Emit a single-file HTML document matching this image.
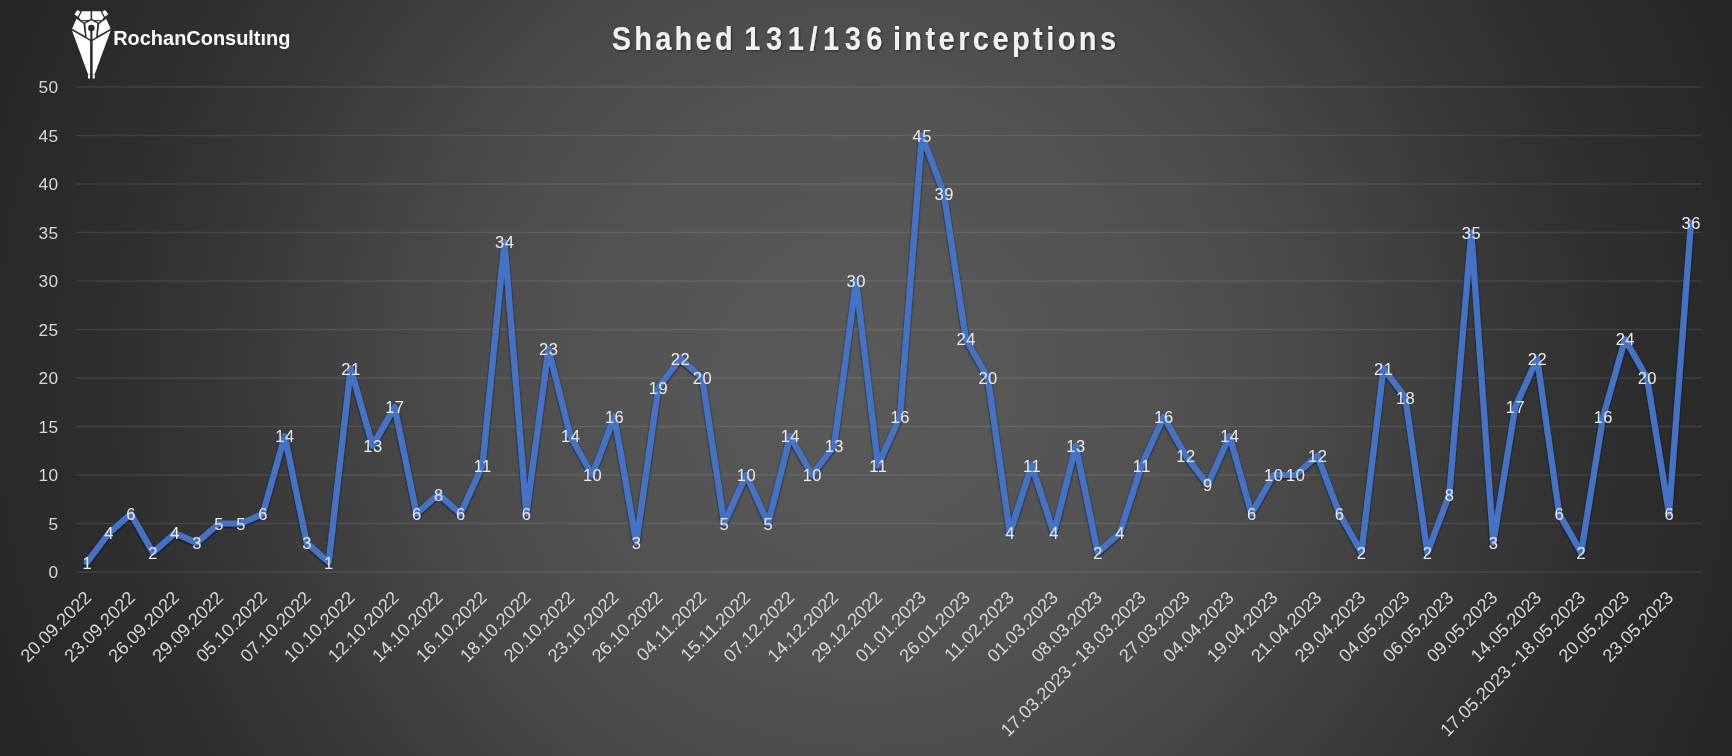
<!DOCTYPE html>
<html lang="en"><head><meta charset="utf-8"><title>Shahed 131/136 interceptions</title>
<style>
html,body{margin:0;padding:0;background:#262626;}
body{width:1732px;height:756px;overflow:hidden;font-family:"Liberation Sans",sans-serif;}
#chart{position:relative;width:1732px;height:756px;overflow:hidden;
background:radial-gradient(circle 945px at 866px 378px,#595959 0%,#585858 10%,#555555 20%,#525252 30%,#4d4d4d 40%,#464646 50%,#3e3e3e 60%,#353535 70%,#323232 75%,#2e2e2e 80%,#2c2c2c 85%,#2a2a2a 90%,#262626 100%);}
svg{position:absolute;left:0;top:0;display:block;}
text{font-family:"Liberation Sans",sans-serif;}
.dl{font-size:16.5px;fill:#ececec;text-anchor:middle;letter-spacing:.5px;}
.yl{font-size:17.3px;fill:#d9d9d9;text-anchor:end;letter-spacing:.4px;}
.xl{font-size:18.2px;fill:#d9d9d9;text-anchor:end;word-spacing:-1px;}
.grid line{stroke:#ffffff;stroke-opacity:.10;stroke-width:1.6;}
</style></head><body>
<div id="chart">
<svg width="1732" height="756" viewBox="0 0 1732 756">
<defs>
<filter id="ls" x="-5%" y="-5%" width="110%" height="110%"><feGaussianBlur in="SourceAlpha" stdDeviation="1.3"/><feOffset dx="0.3" dy="1.2" result="b"/><feFlood flood-color="#000" flood-opacity=".75"/><feComposite in2="b" operator="in"/><feMerge><feMergeNode/><feMergeNode in="SourceGraphic"/></feMerge></filter>
<filter id="ts" x="-5%" y="-30%" width="110%" height="160%"><feGaussianBlur in="SourceAlpha" stdDeviation="1.2"/><feOffset dx="0.8" dy="1.2" result="b"/><feFlood flood-color="#000" flood-opacity=".5"/><feComposite in2="b" operator="in"/><feMerge><feMergeNode/><feMergeNode in="SourceGraphic"/></feMerge></filter>
</defs>
<g opacity=".999">
<g class="grid">
<line x1="76.0" y1="572.00" x2="1702.0" y2="572.00"/>
<line x1="76.0" y1="523.50" x2="1702.0" y2="523.50"/>
<line x1="76.0" y1="475.00" x2="1702.0" y2="475.00"/>
<line x1="76.0" y1="426.50" x2="1702.0" y2="426.50"/>
<line x1="76.0" y1="378.00" x2="1702.0" y2="378.00"/>
<line x1="76.0" y1="329.50" x2="1702.0" y2="329.50"/>
<line x1="76.0" y1="281.00" x2="1702.0" y2="281.00"/>
<line x1="76.0" y1="232.50" x2="1702.0" y2="232.50"/>
<line x1="76.0" y1="184.00" x2="1702.0" y2="184.00"/>
<line x1="76.0" y1="135.50" x2="1702.0" y2="135.50"/>
<line x1="76.0" y1="87.00" x2="1702.0" y2="87.00"/>
</g>
<g>
<text class="yl" x="58.6" y="578.00">0</text>
<text class="yl" x="58.6" y="529.50">5</text>
<text class="yl" x="58.6" y="481.00">10</text>
<text class="yl" x="58.6" y="432.50">15</text>
<text class="yl" x="58.6" y="384.00">20</text>
<text class="yl" x="58.6" y="335.50">25</text>
<text class="yl" x="58.6" y="287.00">30</text>
<text class="yl" x="58.6" y="238.50">35</text>
<text class="yl" x="58.6" y="190.00">40</text>
<text class="yl" x="58.6" y="141.50">45</text>
<text class="yl" x="58.6" y="93.00">50</text>
</g>
<g>
<text class="xl" transform="translate(92.29,598.80) rotate(-45)">20.09.2022</text>
<text class="xl" transform="translate(136.23,598.80) rotate(-45)">23.09.2022</text>
<text class="xl" transform="translate(180.18,598.80) rotate(-45)">26.09.2022</text>
<text class="xl" transform="translate(224.12,598.80) rotate(-45)">29.09.2022</text>
<text class="xl" transform="translate(268.07,598.80) rotate(-45)">05.10.2022</text>
<text class="xl" transform="translate(312.02,598.80) rotate(-45)">07.10.2022</text>
<text class="xl" transform="translate(355.96,598.80) rotate(-45)">10.10.2022</text>
<text class="xl" transform="translate(399.91,598.80) rotate(-45)">12.10.2022</text>
<text class="xl" transform="translate(443.85,598.80) rotate(-45)">14.10.2022</text>
<text class="xl" transform="translate(487.80,598.80) rotate(-45)">16.10.2022</text>
<text class="xl" transform="translate(531.75,598.80) rotate(-45)">18.10.2022</text>
<text class="xl" transform="translate(575.69,598.80) rotate(-45)">20.10.2022</text>
<text class="xl" transform="translate(619.64,598.80) rotate(-45)">23.10.2022</text>
<text class="xl" transform="translate(663.58,598.80) rotate(-45)">26.10.2022</text>
<text class="xl" transform="translate(707.53,598.80) rotate(-45)">04.11.2022</text>
<text class="xl" transform="translate(751.48,598.80) rotate(-45)">15.11.2022</text>
<text class="xl" transform="translate(795.42,598.80) rotate(-45)">07.12.2022</text>
<text class="xl" transform="translate(839.37,598.80) rotate(-45)">14.12.2022</text>
<text class="xl" transform="translate(883.31,598.80) rotate(-45)">29.12.2022</text>
<text class="xl" transform="translate(927.26,598.80) rotate(-45)">01.01.2023</text>
<text class="xl" transform="translate(971.21,598.80) rotate(-45)">26.01.2023</text>
<text class="xl" transform="translate(1015.15,598.80) rotate(-45)">11.02.2023</text>
<text class="xl" transform="translate(1059.10,598.80) rotate(-45)">01.03.2023</text>
<text class="xl" transform="translate(1103.04,598.80) rotate(-45)">08.03.2023</text>
<text class="xl" transform="translate(1146.99,598.80) rotate(-45)">17.03.2023 - 18.03.2023</text>
<text class="xl" transform="translate(1190.94,598.80) rotate(-45)">27.03.2023</text>
<text class="xl" transform="translate(1234.88,598.80) rotate(-45)">04.04.2023</text>
<text class="xl" transform="translate(1278.83,598.80) rotate(-45)">19.04.2023</text>
<text class="xl" transform="translate(1322.77,598.80) rotate(-45)">21.04.2023</text>
<text class="xl" transform="translate(1366.72,598.80) rotate(-45)">29.04.2023</text>
<text class="xl" transform="translate(1410.66,598.80) rotate(-45)">04.05.2023</text>
<text class="xl" transform="translate(1454.61,598.80) rotate(-45)">06.05.2023</text>
<text class="xl" transform="translate(1498.56,598.80) rotate(-45)">09.05.2023</text>
<text class="xl" transform="translate(1542.50,598.80) rotate(-45)">14.05.2023</text>
<text class="xl" transform="translate(1586.45,598.80) rotate(-45)">17.05.2023 - 18.05.2023</text>
<text class="xl" transform="translate(1630.39,598.80) rotate(-45)">20.05.2023</text>
<text class="xl" transform="translate(1674.34,598.80) rotate(-45)">23.05.2023</text>
</g>
<polyline points="86.99,562.30 108.96,533.20 130.93,513.80 152.91,552.60 174.88,533.20 196.85,542.90 218.82,523.50 240.80,523.50 262.77,513.80 284.74,436.20 306.72,542.90 328.69,562.30 350.66,368.30 372.64,445.90 394.61,407.10 416.58,513.80 438.55,494.40 460.53,513.80 482.50,465.30 504.47,242.20 526.45,513.80 548.42,348.90 570.39,436.20 592.36,475.00 614.34,416.80 636.31,542.90 658.28,387.70 680.26,358.60 702.23,378.00 724.20,523.50 746.18,475.00 768.15,523.50 790.12,436.20 812.09,475.00 834.07,445.90 856.04,281.00 878.01,465.30 899.99,416.80 921.96,135.50 943.93,193.70 965.91,339.20 987.88,378.00 1009.85,533.20 1031.82,465.30 1053.80,533.20 1075.77,445.90 1097.74,552.60 1119.72,533.20 1141.69,465.30 1163.66,416.80 1185.64,455.60 1207.61,484.70 1229.58,436.20 1251.55,513.80 1273.53,475.00 1295.50,475.00 1317.47,455.60 1339.45,513.80 1361.42,552.60 1383.39,368.30 1405.36,397.40 1427.34,552.60 1449.31,494.40 1471.28,232.50 1493.26,542.90 1515.23,407.10 1537.20,358.60 1559.18,513.80 1581.15,552.60 1603.12,416.80 1625.09,339.20 1647.07,378.00 1669.04,513.80 1691.01,222.80" fill="none" stroke="#4573c6" stroke-width="6.2" stroke-linejoin="round" stroke-linecap="round" filter="url(#ls)"/>
<g>
<text class="dl" x="87.24" y="568.50">1</text>
<text class="dl" x="109.21" y="539.40">4</text>
<text class="dl" x="131.18" y="520.00">6</text>
<text class="dl" x="153.16" y="558.80">2</text>
<text class="dl" x="175.13" y="539.40">4</text>
<text class="dl" x="197.10" y="549.10">3</text>
<text class="dl" x="219.07" y="529.70">5</text>
<text class="dl" x="241.05" y="529.70">5</text>
<text class="dl" x="263.02" y="520.00">6</text>
<text class="dl" x="284.99" y="442.40">14</text>
<text class="dl" x="306.97" y="549.10">3</text>
<text class="dl" x="328.94" y="568.50">1</text>
<text class="dl" x="350.91" y="374.50">21</text>
<text class="dl" x="372.89" y="452.10">13</text>
<text class="dl" x="394.86" y="413.30">17</text>
<text class="dl" x="416.83" y="520.00">6</text>
<text class="dl" x="438.80" y="500.60">8</text>
<text class="dl" x="460.78" y="520.00">6</text>
<text class="dl" x="482.75" y="471.50">11</text>
<text class="dl" x="504.72" y="248.40">34</text>
<text class="dl" x="526.70" y="520.00">6</text>
<text class="dl" x="548.67" y="355.10">23</text>
<text class="dl" x="570.64" y="442.40">14</text>
<text class="dl" x="592.61" y="481.20">10</text>
<text class="dl" x="614.59" y="423.00">16</text>
<text class="dl" x="636.56" y="549.10">3</text>
<text class="dl" x="658.53" y="393.90">19</text>
<text class="dl" x="680.51" y="364.80">22</text>
<text class="dl" x="702.48" y="384.20">20</text>
<text class="dl" x="724.45" y="529.70">5</text>
<text class="dl" x="746.43" y="481.20">10</text>
<text class="dl" x="768.40" y="529.70">5</text>
<text class="dl" x="790.37" y="442.40">14</text>
<text class="dl" x="812.34" y="481.20">10</text>
<text class="dl" x="834.32" y="452.10">13</text>
<text class="dl" x="856.29" y="287.20">30</text>
<text class="dl" x="878.26" y="471.50">11</text>
<text class="dl" x="900.24" y="423.00">16</text>
<text class="dl" x="922.21" y="141.70">45</text>
<text class="dl" x="944.18" y="199.90">39</text>
<text class="dl" x="966.16" y="345.40">24</text>
<text class="dl" x="988.13" y="384.20">20</text>
<text class="dl" x="1010.10" y="539.40">4</text>
<text class="dl" x="1032.07" y="471.50">11</text>
<text class="dl" x="1054.05" y="539.40">4</text>
<text class="dl" x="1076.02" y="452.10">13</text>
<text class="dl" x="1097.99" y="558.80">2</text>
<text class="dl" x="1119.97" y="539.40">4</text>
<text class="dl" x="1141.94" y="471.50">11</text>
<text class="dl" x="1163.91" y="423.00">16</text>
<text class="dl" x="1185.89" y="461.80">12</text>
<text class="dl" x="1207.86" y="490.90">9</text>
<text class="dl" x="1229.83" y="442.40">14</text>
<text class="dl" x="1251.80" y="520.00">6</text>
<text class="dl" x="1273.78" y="481.20">10</text>
<text class="dl" x="1295.75" y="481.20">10</text>
<text class="dl" x="1317.72" y="461.80">12</text>
<text class="dl" x="1339.70" y="520.00">6</text>
<text class="dl" x="1361.67" y="558.80">2</text>
<text class="dl" x="1383.64" y="374.50">21</text>
<text class="dl" x="1405.61" y="403.60">18</text>
<text class="dl" x="1427.59" y="558.80">2</text>
<text class="dl" x="1449.56" y="500.60">8</text>
<text class="dl" x="1471.53" y="238.70">35</text>
<text class="dl" x="1493.51" y="549.10">3</text>
<text class="dl" x="1515.48" y="413.30">17</text>
<text class="dl" x="1537.45" y="364.80">22</text>
<text class="dl" x="1559.43" y="520.00">6</text>
<text class="dl" x="1581.40" y="558.80">2</text>
<text class="dl" x="1603.37" y="423.00">16</text>
<text class="dl" x="1625.34" y="345.40">24</text>
<text class="dl" x="1647.32" y="384.20">20</text>
<text class="dl" x="1669.29" y="520.00">6</text>
<text class="dl" x="1691.26" y="229.00">36</text>
</g>
<g font-size="33" font-weight="700" fill="#f2f2f2" filter="url(#ts)">
<text transform="translate(611.70,50.4) scale(0.880,1)" letter-spacing="3.65">Shahed</text>
<text transform="translate(744.30,50.4) scale(0.880,1)" letter-spacing="6.30">131/136</text>
<text transform="translate(892.90,50.4) scale(0.880,1)" letter-spacing="3.87">interceptions</text>
</g>
<g id="logo">
<g fill="#ffffff">
<polygon points="74.3,14.2 77.5,10 80.4,11.8 77.8,16.8"/>
<polygon points="102.2,11.8 105.1,10 108.3,14.2 104.8,16.8"/>
<polygon points="78.9,17.4 82,11.3 90.6,11.3 90.6,19 88.6,20 81.2,20.2"/>
<polygon points="92.1,11.3 100.7,11.3 103.8,17.4 101.5,20.2 94.1,20 92.1,19"/>
<polygon points="91.35,20.2 85.3,23.4 86.6,37.3 91.35,39.9 96.1,37.3 97.4,23.4"/>
<polygon points="76.5,18.7 83.4,23.8 85,35.9 72.1,28.8"/>
<polygon points="106.2,18.7 99.3,23.8 97.7,35.9 110.6,28.8"/>
<polygon points="72,30.4 90.3,40.9 90.3,74.6 88.1,74.6"/>
<polygon points="110.7,30.4 92.4,40.9 92.4,74.6 94.6,74.6"/>
<rect x="88" y="74.6" width="2.2" height="4.2" rx="1"/>
<rect x="92.5" y="74.6" width="2.2" height="4.2" rx="1"/>
</g>
<g fill="#ffffff" fill-opacity=".75"><polygon points="82,21.1 86.8,21.1 84.1,22.8"/><polygon points="95.8,21.1 100.6,21.1 98.4,22.8"/></g>
<circle cx="91.35" cy="28" r="3.25" fill="#2b2b2b"/>
<rect x="90.3" y="28" width="2.1" height="51" fill="#2b2b2b"/>
<text transform="translate(113.20,45.30) scale(0.950,1)" font-size="21" font-weight="700" letter-spacing="0.00" fill="#ffffff">RochanConsultıng</text>
</g>
</g>
</svg></div></body></html>
